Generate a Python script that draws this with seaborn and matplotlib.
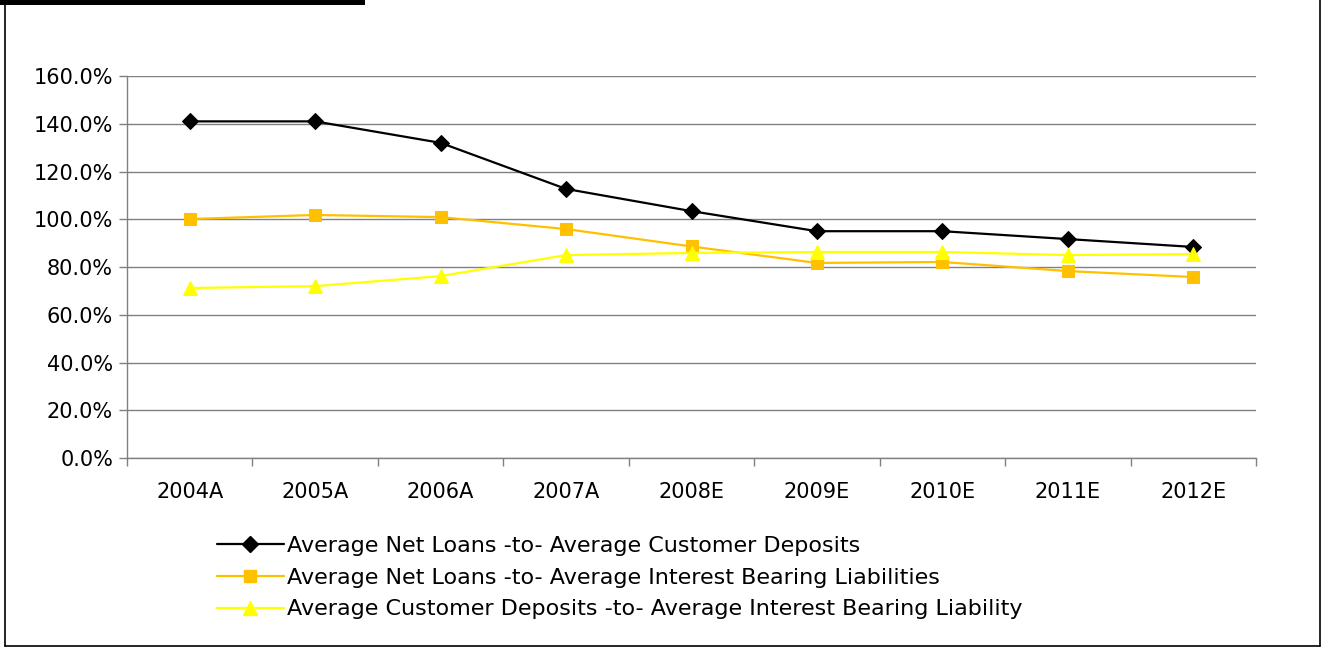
import matplotlib
matplotlib.use("Agg")
import matplotlib.pyplot as plt
from matplotlib.lines import Line2D
from matplotlib.patches import Rectangle
from matplotlib.ticker import FixedLocator, PercentFormatter
import seaborn as sns
import pandas as pd

years = ["2004A", "2005A", "2006A", "2007A", "2008E", "2009E", "2010E", "2011E", "2012E"]
loans_to_deposits = [141.0, 141.0, 132.0, 112.7, 103.4, 95.0, 95.0, 91.7, 88.4]
loans_to_ibl = [100.1, 101.8, 100.9, 95.9, 88.6, 81.7, 82.1, 78.3, 75.8]
deposits_to_ibl = [71.2, 72.0, 76.2, 85.0, 85.9, 86.3, 86.3, 85.0, 85.4]
series_names = [
    "Average Net Loans -to- Average Customer Deposits",
    "Average Net Loans -to- Average Interest Bearing Liabilities",
    "Average Customer Deposits -to- Average Interest Bearing Liability",
]
y_ticks = [0, 20, 40, 60, 80, 100, 120, 140, 160]

colors = ["#000000", "#FFC000", "#FFFF00"]
markers = ["D", "s", "^"]
msizes = [8, 9, 10]

frames = []
for name, vals in zip(series_names, [loans_to_deposits, loans_to_ibl, deposits_to_ibl]):
    frames.append(pd.DataFrame({"year": years, "value": vals, "series": name}))
df = pd.concat(frames, ignore_index=True)
df["pos"] = df["year"].map({y: i for i, y in enumerate(years)})

sns.set_theme(style="white")
plt.rcParams["font.family"] = ["DejaVu Sans"]
plt.rcParams["text.color"] = "black"

fig = plt.figure(figsize=(13.23, 6.48), dpi=100)
ax = fig.add_axes([0.096, 0.2932, 0.8534, 0.5895])

for name, c, m, ms in zip(series_names, colors, markers, msizes):
    sub = df[df["series"] == name]
    sns.lineplot(data=sub, x="pos", y="value", ax=ax, color=c, linewidth=1.6,
                 marker=m, markersize=ms, markeredgecolor=c, markerfacecolor=c,
                 label=name, legend=False)

ax.set_xlim(-0.5, len(years) - 0.5)
ax.set_ylim(0, 160)
ax.set_xlabel("")
ax.set_ylabel("")

ax.yaxis.set_major_locator(FixedLocator(y_ticks))
ax.yaxis.set_major_formatter(PercentFormatter(decimals=1))
ax.grid(axis="y", color="#808080", linewidth=1.0)
ax.grid(axis="x", visible=False)
ax.set_axisbelow(True)

ax.set_xticks(range(len(years)))
ax.set_xticklabels(years)
ax.set_xticks([i - 0.5 for i in range(len(years) + 1)], minor=True)
ax.tick_params(axis="x", which="major", length=0, pad=17, labelsize=15, colors="#000000")
ax.tick_params(axis="x", which="minor", length=6, width=1, color="#808080", direction="out", bottom=True)
ax.tick_params(axis="y", which="major", length=6, width=1, color="#808080", direction="out",
               left=True, labelsize=15, labelcolor="#000000", pad=4)

for side in ["top", "right"]:
    ax.spines[side].set_visible(False)
for side in ["left", "bottom"]:
    ax.spines[side].set_color("#808080")
    ax.spines[side].set_linewidth(1.0)

handles = [Line2D([0], [0], color=c, marker=m, markersize=ms, linewidth=1.6,
                  markerfacecolor=c, markeredgecolor=c)
           for c, m, ms in zip(colors, markers, msizes)]
leg = fig.legend(handles, series_names, loc="upper left", bbox_to_anchor=(0.164, 0.173),
                 frameon=False, fontsize=16, handlelength=3.0, handletextpad=0.15,
                 labelspacing=0.53, borderpad=0, borderaxespad=0)
for t in leg.get_texts():
    t.set_color("black")

# outer frame and header bar
fig.add_artist(Line2D([0.0035, 0.0035], [0.0035, 1.0], transform=fig.transFigure, color="black", linewidth=1.2))
fig.add_artist(Line2D([0.9975, 0.9975], [0.0035, 1.0], transform=fig.transFigure, color="black", linewidth=1.2))
fig.add_artist(Line2D([0.0035, 0.9975], [0.0035, 0.0035], transform=fig.transFigure, color="black", linewidth=1.2))
fig.add_artist(Rectangle((0, 1 - 5 / 648), 365 / 1323, 5 / 648, transform=fig.transFigure,
                         facecolor="black", edgecolor="none"))

fig.savefig("out.png", dpi=100, facecolor="white")
